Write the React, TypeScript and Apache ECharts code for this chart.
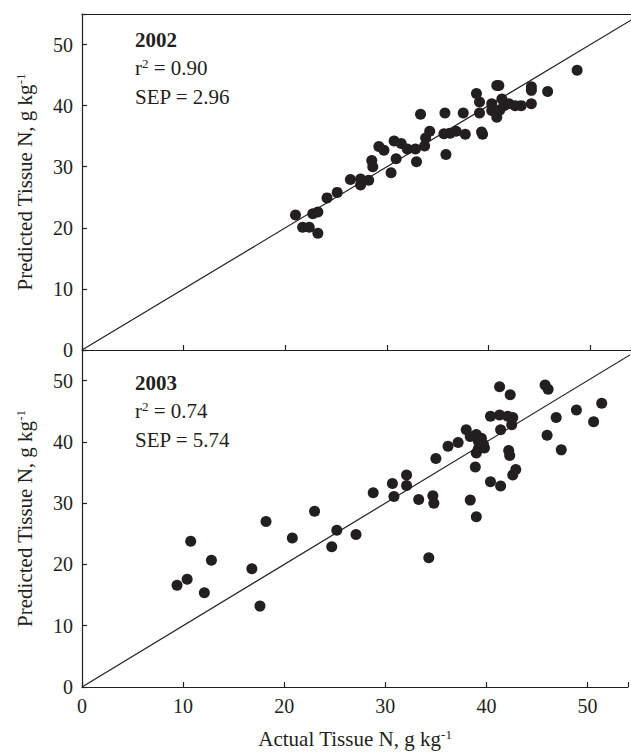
import React, { useEffect, useRef } from "react";
import * as echarts from "echarts";

// 2002 data: [actual, predicted]
const actual2002 = [21.0, 21.7, 22.35, 22.7, 23.2, 23.2, 24.1, 25.1, 26.4, 27.4, 27.4, 28.2, 28.5, 28.6, 29.2, 29.7, 30.4, 30.7, 30.9, 31.4, 32.0, 32.8, 32.9, 33.3, 33.7, 33.8, 34.2, 35.7, 35.6, 35.8, 36.2, 36.8, 37.5, 37.7, 38.8, 39.1, 39.1, 39.3, 39.4, 40.3, 40.3, 40.8, 41.0, 40.8, 41.1, 41.3, 41.5, 42.0, 42.6, 43.2, 44.2, 44.2, 44.2, 45.8, 48.7];
const predicted2002 = [22.1, 20.1, 20.1, 22.3, 22.6, 19.1, 24.9, 25.8, 27.9, 28.0, 27.0, 27.8, 31.0, 30.0, 33.3, 32.7, 29.0, 34.2, 31.3, 33.8, 32.9, 32.9, 30.8, 38.6, 33.4, 34.7, 35.8, 38.8, 35.4, 32.0, 35.5, 35.8, 38.8, 35.3, 42.0, 40.6, 38.8, 35.7, 35.3, 40.3, 39.2, 43.3, 43.3, 38.1, 39.3, 41.1, 40.0, 40.3, 40.0, 40.0, 40.3, 43.1, 42.5, 42.3, 45.8];

// 2003 data
const actual2003 = [9.4, 10.4, 10.75, 12.1, 12.8, 16.8, 17.6, 18.2, 20.8, 23.0, 24.7, 25.2, 27.1, 28.8, 30.7, 30.85, 32.1, 32.1, 33.3, 34.7, 34.8, 34.3, 35.0, 36.2, 37.2, 38.0, 38.4, 38.4, 39.0, 38.9, 39.0, 39.2, 39.2, 39.5, 39.7, 39.8, 39.0, 40.4, 41.3, 40.4, 41.3, 41.4, 41.4, 42.1, 42.6, 42.5, 42.35, 42.2, 42.3, 42.9, 42.6, 45.8, 46.1, 46.9, 46.0, 47.4, 48.9, 50.6, 51.4];
const predicted2003 = [16.6, 17.6, 23.8, 15.4, 20.7, 19.3, 13.2, 27.0, 24.3, 28.7, 22.9, 25.6, 24.9, 31.7, 33.2, 31.1, 34.6, 32.9, 30.6, 31.2, 30.0, 21.1, 37.3, 39.3, 39.9, 42.0, 40.9, 30.5, 27.8, 35.9, 41.2, 40.1, 38.9, 40.6, 39.6, 39.0, 38.2, 33.5, 49.0, 44.2, 44.4, 32.8, 42.0, 44.2, 44.0, 42.8, 47.7, 38.6, 37.8, 35.5, 34.6, 49.3, 48.6, 44.0, 41.1, 38.7, 45.2, 43.3, 46.3];

const oneToOne = [[0, 0], [60, 60]];
const yTicks = [0, 10, 20, 30, 40, 50];
const stats = [
  { year: "2002", r2: "0.90", sep: "2.96" },
  { year: "2003", r2: "0.74", sep: "5.74" },
];

const INK = "#231f20";
const FONT = "'Liberation Serif', 'Times New Roman', serif";

export default function App() {
  const ref = useRef<HTMLDivElement>(null);
  useEffect(() => {
    if (!ref.current) return;
    const chart = echarts.init(ref.current, null, { renderer: "svg" });
    const pair = (xs: number[], ys: number[]) => xs.map((x, i) => [x, ys[i]]);
    const rich = { sup: { fontSize: 13, lineHeight: 13, verticalAlign: "top", fontFamily: FONT, color: INK } };
    const yLabelFmt = (v: number) => (yTicks.includes(v) ? String(v) : "");
    const baseAxis = {
      axisLine: { show: true, lineStyle: { color: INK, width: 1.2 } },
      axisTick: { show: true, inside: true, length: 5, lineStyle: { color: INK, width: 1.2 } },
      splitLine: { show: false },
    };
    const labelStyle = { color: INK, fontFamily: FONT, fontSize: 20, margin: 9 };
    const yName = "Predicted Tissue N, g kg{sup|-1}";
    const nameStyle = { color: INK, fontFamily: FONT, fontSize: 21, lineHeight: 22, rich };
    const makeText = (s: typeof stats[0], top: number) => [
      { type: "text", left: 135, top: top, style: { text: s.year, fontFamily: FONT, fontSize: 21, fontWeight: "bold", fill: INK } },
      { type: "text", left: 135, top: top + 28, style: { text: "r{sup|2} = " + s.r2, fontFamily: FONT, fontSize: 21, lineHeight: 22, fill: INK, rich } },
      { type: "text", left: 135, top: top + 57, style: { text: "SEP = " + s.sep, fontFamily: FONT, fontSize: 21, fill: INK } },
    ];
    chart.setOption({
      animation: false,
      grid: [
        { left: 82, top: 14, right: 0, height: 336 },
        { left: 82, top: 350, right: 0, height: 337 },
      ],
      xAxis: [
        { ...baseAxis, type: "value", gridIndex: 0, min: 0, max: 54, interval: 10, position: "bottom", axisLabel: { show: false } },
        { ...baseAxis, type: "value", gridIndex: 0, min: 0, max: 54, interval: 10, position: "top", axisTick: { show: false }, axisLabel: { show: false } },
        {
          ...baseAxis, type: "value", gridIndex: 1, min: 0, max: 54, interval: 10, position: "bottom",
          axisLabel: { ...labelStyle, formatter: yLabelFmt },
          name: "Actual Tissue N, g kg{sup|-1}", nameLocation: "middle", nameGap: 41, nameTextStyle: nameStyle,
        },
      ],
      yAxis: [
        {
          ...baseAxis, type: "value", gridIndex: 0, min: 0, max: 55, interval: 10,
          axisLabel: { ...labelStyle, formatter: yLabelFmt },
          name: yName, nameLocation: "middle", nameGap: 46, nameTextStyle: nameStyle,
        },
        {
          ...baseAxis, type: "value", gridIndex: 1, min: 0, max: 55, interval: 10,
          axisLabel: { ...labelStyle, formatter: yLabelFmt },
          name: yName, nameLocation: "middle", nameGap: 46, nameTextStyle: nameStyle,
        },
      ],
      series: [
        { type: "line", xAxisIndex: 0, yAxisIndex: 0, data: oneToOne, showSymbol: false, symbol: "none", clip: true, lineStyle: { color: INK, width: 1.2 }, silent: true },
        { type: "scatter", xAxisIndex: 0, yAxisIndex: 0, data: pair(actual2002, predicted2002), symbolSize: 11, itemStyle: { color: INK, opacity: 1 } },
        { type: "line", xAxisIndex: 2, yAxisIndex: 1, data: oneToOne, showSymbol: false, symbol: "none", clip: true, lineStyle: { color: INK, width: 1.2 }, silent: true },
        { type: "scatter", xAxisIndex: 2, yAxisIndex: 1, data: pair(actual2003, predicted2003), symbolSize: 11, itemStyle: { color: INK, opacity: 1 } },
      ],
      graphic: [...makeText(stats[0], 29), ...makeText(stats[1], 372)],
    });
    return () => chart.dispose();
  }, []);
  return <div ref={ref} style={{ width: 631, height: 756, position: "absolute", left: 0, top: 0, background: "#fff" }} />;
}
